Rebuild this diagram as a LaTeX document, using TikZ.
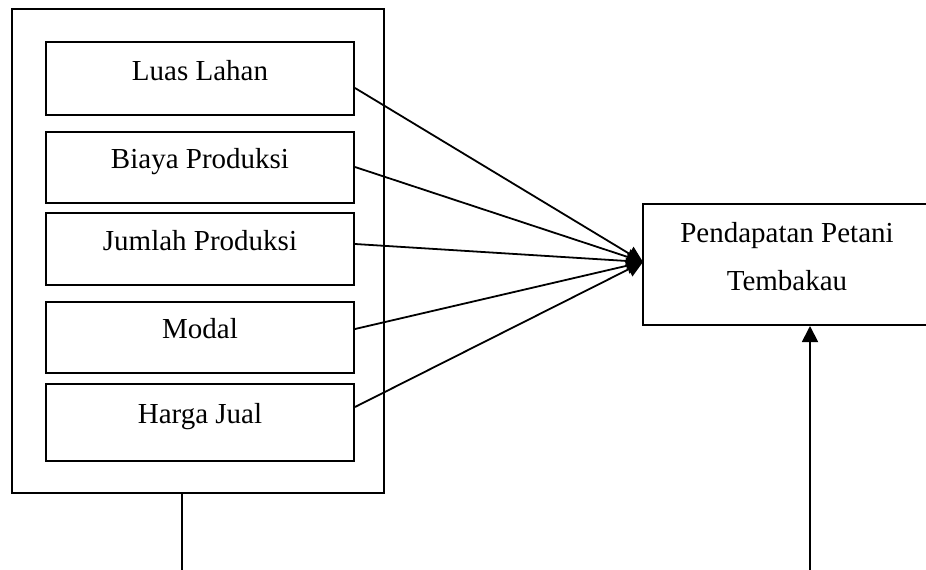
\documentclass[tikz,border=0pt]{standalone}
\usepackage{fontspec}
\setmainfont{Liberation Serif}
\usetikzlibrary{arrows.meta,calc}
\begin{document}
\begin{tikzpicture}[x=1pt,y=-1pt,
  box/.style={draw,line width=2pt,inner sep=0pt},
  lbl/.style={anchor=base,inner sep=0pt,font=\fontsize{29}{35}\selectfont},
  conn/.style={line width=1.8pt,-{Triangle[length=16pt,width=16pt]}},
  plain/.style={line width=1.8pt}]
\useasboundingbox (0,0) rectangle (926,570);
\node[box,minimum width=372pt,minimum height=484pt] (outer) at (198,251) {};
\node[box,minimum width=308pt,minimum height=73pt] (b1) at (200,78.5) {};
\node[box,minimum width=308pt,minimum height=71pt] (b2) at (200,167.5) {};
\node[box,minimum width=308pt,minimum height=72pt] (b3) at (200,249) {};
\node[box,minimum width=308pt,minimum height=71pt] (b4) at (200,337.5) {};
\node[box,minimum width=308pt,minimum height=77pt] (b5) at (200,422.5) {};
\node[lbl] (t1) at (200,80) {Luas Lahan};
\node[lbl] (t2) at (200,168.5) {Biaya Produksi};
\node[lbl] (t3) at (200,250) {Jumlah Produksi};
\node[lbl] (t4) at (200,338.5) {Modal};
\node[lbl] (t5) at (200,423.5) {Harga Jual};
\node[box,minimum width=300pt,minimum height=121pt] (out) at (793,264.5) {};
\node[lbl] (o1) at (787,242) {Pendapatan Petani};
\node[lbl] (o2) at (787,290) {Tembakau};
\coordinate (tip) at (643,262);
\coordinate (s1) at ($(b1.east)+(0,9.5)$);
\coordinate (s2) at ($(b2.east)+(0,-0.5)$);
\coordinate (s3) at ($(b3.east)+(0,-5)$);
\coordinate (s4) at ($(b4.east)+(0,-8.5)$);
\coordinate (s5) at ($(b5.east)+(0,-15.5)$);
\foreach \s in {s1,s2,s3,s4,s5}{\draw[conn] (\s) -- (tip);}
\coordinate (lb) at (182,570);
\draw[plain] (outer.south -| lb) -- (lb);
\coordinate (rb) at (810,570);
\draw[conn] (rb) -- (rb |- out.south);
\end{tikzpicture}
\end{document}
